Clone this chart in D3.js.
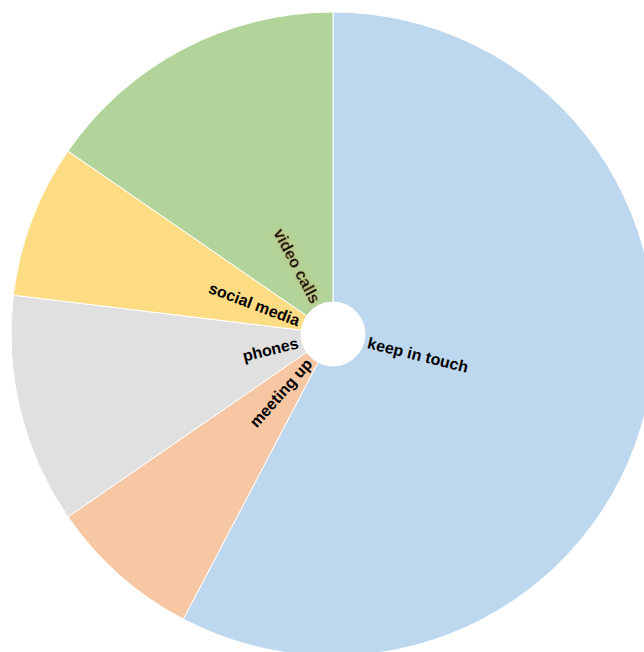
<!DOCTYPE html>
<html><head><meta charset="utf-8">
<script src="https://cdn.jsdelivr.net/npm/d3@7"></script>
<style>body{margin:0;background:#fff;}svg{display:block;}</style>
</head><body>
<script>
const categories = ["keep in touch","meeting up","phones","social media","video calls"];
const values = [15, 2, 3, 2, 4];
const colors = ["#bdd7ef","#f7c6a3","#e0e0e0","#fddc84","#b2d49a"];

const W = 644, H = 652, cx = 333, cy = 334, R = 322, r0 = 32;
const svg = d3.select("body").append("svg").attr("width", W).attr("height", H);
const defs = svg.append("defs");
const f = defs.append("filter").attr("id","glow").attr("x","-50%").attr("y","-50%").attr("width","200%").attr("height","200%");
f.append("feGaussianBlur").attr("in","SourceAlpha").attr("stdDeviation",4).attr("result","b");
f.append("feFlood").attr("flood-color","#e39a4c").attr("flood-opacity",0.45).attr("result","c");
f.append("feComposite").attr("in","c").attr("in2","b").attr("operator","in").attr("result","s");
const m = f.append("feMerge"); m.append("feMergeNode").attr("in","s"); m.append("feMergeNode").attr("in","SourceGraphic");

const data = categories.map((c,i)=>({name:c, value:values[i], color:colors[i]}));
const pie = d3.pie().value(d=>d.value).sort(null);
const arc = d3.arc().innerRadius(r0).outerRadius(R);
const g = svg.append("g").attr("transform",`translate(${cx},${cy})`);
const arcs = pie(data);
g.selectAll("path").data(arcs).join("path")
  .attr("d", arc).attr("fill", d=>d.data.color)
  .attr("stroke","#fff").attr("stroke-width",1);

g.selectAll("text").data(arcs).join("text")
  .attr("transform", d=>{
    const a = (d.startAngle+d.endAngle)/2*180/Math.PI;
    return `rotate(${a-90}) translate(${r0+4},0)` + (a>180 ? " rotate(180)" : "");
  })
  .attr("dy","0.35em")
  .attr("text-anchor", d=>((d.startAngle+d.endAngle)/2 > Math.PI) ? "end" : "start")
  .attr("font-family","Liberation Sans, Arial, sans-serif")
  .attr("font-weight","bold").attr("font-size",16).attr("fill","#000")
  .attr("filter", d=>d.data.name==="video calls" ? "url(#glow)" : null)
  .text(d=>d.data.name);
</script>
</body></html>
